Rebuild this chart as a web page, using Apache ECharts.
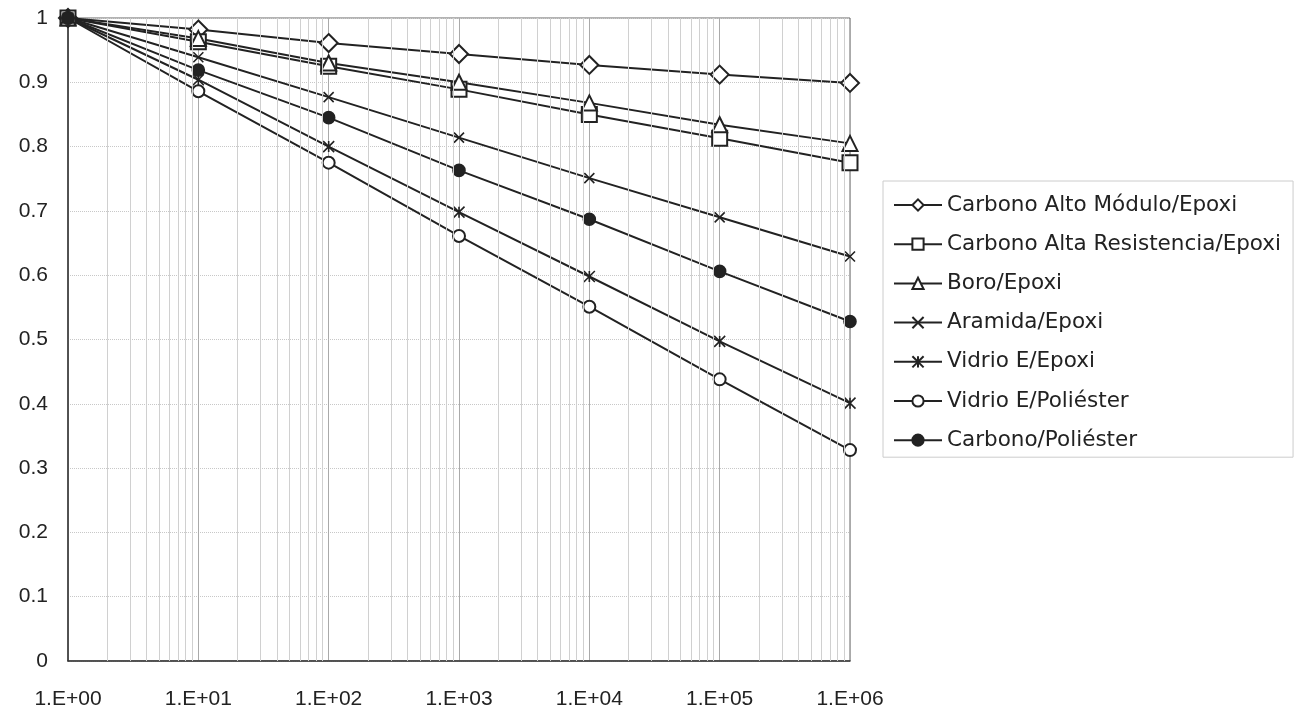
<!DOCTYPE html>
<html>
<head>
<meta charset="utf-8">
<script src="https://cdn.jsdelivr.net/npm/echarts@6/dist/echarts.min.js"></script>
<style>
  html, body { margin: 0; padding: 0; background: #fff; }
  #chart { width: 1297px; height: 713px; }
</style>
</head>
<body>
<div id="chart"></div>
<script>
// ciclos (escala log)
var ciclos = [1, 10, 100, 1000, 10000, 100000, 1000000];
var yTicks = [0, 0.1, 0.2, 0.3, 0.4, 0.5, 0.6, 0.7, 0.8, 0.9, 1];

var carbonoAltoModulo = [1, 0.982, 0.961, 0.944, 0.927, 0.912, 0.899];
var carbonoAltaResist = [1, 0.963, 0.925, 0.889, 0.850, 0.813, 0.775];
var boroEpoxi         = [1, 0.968, 0.930, 0.900, 0.868, 0.834, 0.805];
var aramidaEpoxi      = [1, 0.939, 0.877, 0.814, 0.751, 0.690, 0.629];
var vidrioEpoxi       = [1, 0.904, 0.800, 0.698, 0.598, 0.497, 0.401];
var vidrioPoliester   = [1, 0.886, 0.775, 0.661, 0.551, 0.438, 0.328];
var carbonoPoliester  = [1, 0.919, 0.845, 0.763, 0.687, 0.606, 0.528];

var nombres = ['Carbono Alto Módulo/Epoxi', 'Carbono Alta Resistencia/Epoxi', 'Boro/Epoxi',
  'Aramida/Epoxi', 'Vidrio E/Epoxi', 'Vidrio E/Poliéster', 'Carbono/Poliéster'];

var INK = '#222';

function pares(vals) {
  return ciclos.map(function (c, i) { return [c, vals[i]]; });
}

// lineas secundarias de la escala log (2..9 en cada decada)
var menores = [];
for (var d = 0; d < 6; d++) {
  for (var k = 2; k <= 9; k++) menores.push({ xAxis: k * Math.pow(10, d) });
}

function serie(nombre, vals, symbol, size) {
  return {
    name: nombre,
    type: 'line',
    data: pares(vals),
    symbol: symbol,
    symbolSize: size,
    showAllSymbol: true,
    lineStyle: { color: INK, width: 2 },
    itemStyle: { color: INK, borderColor: INK, borderWidth: 1.6 },
    z: 3
  };
}

var chart = echarts.init(document.getElementById('chart'));
var option = {
  animation: false,
  backgroundColor: '#fff',
  grid: {
    left: 68, top: 18, right: 447, bottom: 52,
    show: true, borderColor: '#666', borderWidth: 1
  },
  legend: {
    orient: 'vertical',
    left: 883, top: 181,
    data: nombres,
    padding: [12, 12, 5, 10],
    itemGap: 15.2,
    itemWidth: 48,
    itemHeight: 14,
    borderColor: '#ccc', borderWidth: 1,
    backgroundColor: '#fff',
    textStyle: { fontFamily: 'DejaVu Sans', fontSize: 21.5, color: INK, lineHeight: 24 }
  },
  xAxis: {
    type: 'log',
    logBase: 10,
    min: 1, max: 1000000,
    splitNumber: 6,
    axisLine: { lineStyle: { color: '#333', width: 1.5 } },
    axisTick: { show: false },
    axisLabel: {
      margin: 28,
      fontFamily: 'Liberation Sans', fontSize: 21, color: INK,
      formatter: function (v) {
        var e = Math.round(Math.log10(v));
        return '1.E+' + (e < 10 ? '0' + e : e);
      }
    },
    splitLine: { show: true, lineStyle: { color: '#aaa', width: 1 } }
  },
  yAxis: {
    type: 'value',
    min: 0, max: 1, interval: 0.1,
    axisLine: { show: true, lineStyle: { color: '#333', width: 1.5 } },
    axisTick: { show: false },
    axisLabel: {
      margin: 20,
      fontFamily: 'Liberation Sans', fontSize: 21, color: INK,
      formatter: function (v) { return yTicks.indexOf(Math.round(v * 10) / 10) >= 0 ? String(Math.round(v * 10) / 10) : ''; }
    },
    splitLine: { show: true, lineStyle: { color: '#c8c8c8', type: 'dotted', width: 1 } }
  },
  series: [
    {
      name: 'grid-minor',
      type: 'line',
      data: [],
      z: 1,
      silent: true,
      markLine: {
        silent: true,
        symbol: 'none',
        label: { show: false },
        lineStyle: { color: '#d0d0d0', type: 'solid', width: 1 },
        data: menores
      }
    },
    serie(nombres[0], carbonoAltoModulo, 'emptyDiamond', 18),
    serie(nombres[1], carbonoAltaResist, 'emptyRect', 15),
    serie(nombres[2], boroEpoxi, 'emptyTriangle', 15),
    serie(nombres[3], aramidaEpoxi, 'path://M0,0L10,10M10,0L0,10', 10),
    serie(nombres[4], vidrioEpoxi, 'path://M0,0L10,10M10,0L0,10M5,0L5,10', 11),
    serie(nombres[5], vidrioPoliester, 'emptyCircle', 12),
    serie(nombres[6], carbonoPoliester, 'circle', 12)
  ]
};
chart.setOption(option);
</script>
</body>
</html>
